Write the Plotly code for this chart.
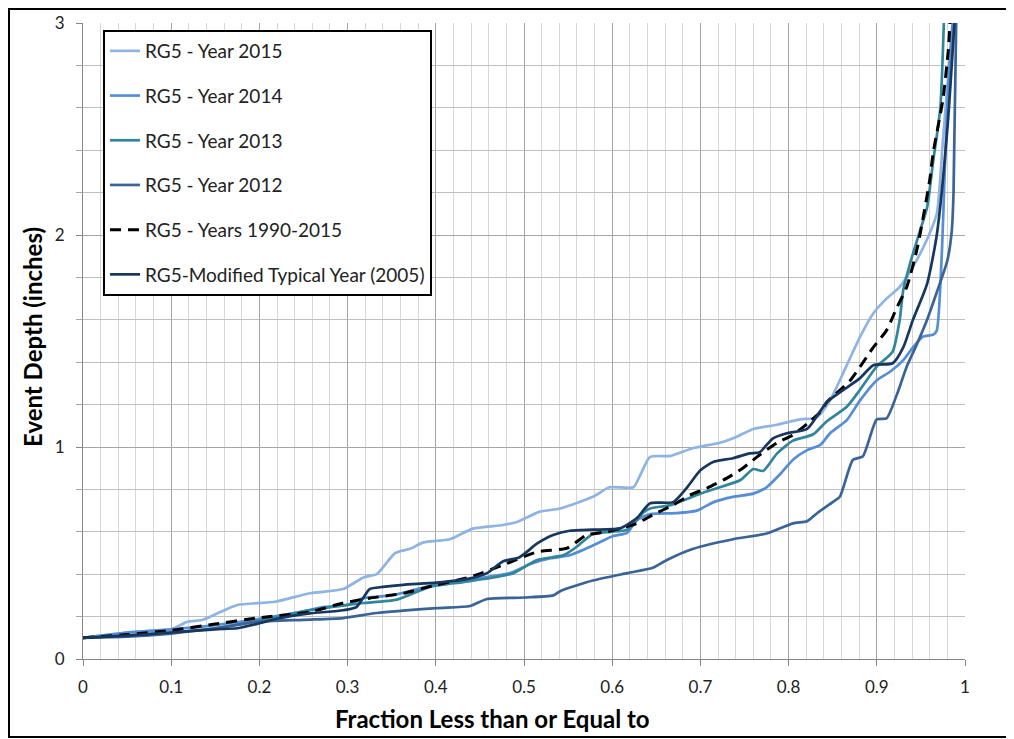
import plotly.graph_objects as go

# ---- data ----
x_2015 = [0, 0.05, 0.1, 0.118, 0.136, 0.155, 0.175, 0.218, 0.257, 0.295, 0.318, 0.333, 0.354, 0.371,
          0.386, 0.416, 0.442, 0.476, 0.492, 0.518, 0.541, 0.578, 0.597, 0.624, 0.631, 0.643, 0.666,
          0.692, 0.722, 0.742, 0.76, 0.787, 0.813, 0.832, 0.847, 0.862, 0.881, 0.896, 0.911, 0.926,
          0.941, 0.957, 0.968, 0.975, 0.982, 0.986]
y_2015 = [0.10, 0.125, 0.14, 0.175, 0.185, 0.22, 0.255, 0.27, 0.31, 0.33, 0.385, 0.40, 0.50, 0.52,
          0.55, 0.565, 0.615, 0.632, 0.646, 0.695, 0.71, 0.765, 0.81, 0.81, 0.86, 0.953, 0.958,
          0.995, 1.02, 1.05, 1.085, 1.105, 1.13, 1.14, 1.22, 1.35, 1.52, 1.63, 1.70, 1.755,
          1.85, 1.98, 2.10, 2.45, 2.8, 3.0]

x_2014 = [0, 0.05, 0.1, 0.15, 0.2, 0.25, 0.272, 0.3, 0.318, 0.35, 0.393, 0.45, 0.484, 0.507, 0.53,
          0.552, 0.578, 0.601, 0.617, 0.628, 0.643, 0.673, 0.696, 0.715, 0.737, 0.76, 0.775, 0.79,
          0.805, 0.821, 0.836, 0.847, 0.866, 0.881, 0.9, 0.915, 0.93, 0.941, 0.952, 0.964, 0.968,
          0.974, 0.977, 0.981, 0.986]
y_2014 = [0.10, 0.125, 0.14, 0.16, 0.19, 0.225, 0.245, 0.255, 0.287, 0.30, 0.344, 0.382, 0.405, 0.448,
          0.475, 0.49, 0.535, 0.58, 0.595, 0.655, 0.684, 0.688, 0.70, 0.74, 0.765, 0.78, 0.81, 0.87,
          0.94, 0.985, 1.01, 1.065, 1.127, 1.22, 1.315, 1.355, 1.41, 1.47, 1.52, 1.53, 1.55,
          1.94, 2.3, 2.7, 3.0]

x_2013 = [0, 0.05, 0.1, 0.15, 0.2, 0.25, 0.3, 0.318, 0.356, 0.393, 0.431, 0.469, 0.488, 0.515, 0.545,
          0.56, 0.578, 0.598, 0.617, 0.635, 0.643, 0.666, 0.7, 0.722, 0.745, 0.76, 0.771, 0.787,
          0.805, 0.828, 0.843, 0.866, 0.881, 0.9, 0.911, 0.918, 0.926, 0.93, 0.938, 0.949, 0.957,
          0.964, 0.972, 0.976]
y_2013 = [0.10, 0.11, 0.125, 0.145, 0.18, 0.225, 0.255, 0.264, 0.28, 0.34, 0.363, 0.387, 0.405, 0.467,
          0.49, 0.53, 0.59, 0.60, 0.61, 0.69, 0.71, 0.726, 0.78, 0.81, 0.843, 0.896, 0.887, 0.97,
          1.03, 1.06, 1.12, 1.19, 1.27, 1.38, 1.42, 1.45, 1.6, 1.74, 1.87, 2.02, 2.13,
          2.35, 2.6, 3.0]

x_2012 = [0, 0.05, 0.1, 0.15, 0.197, 0.25, 0.295, 0.333, 0.401, 0.439, 0.458, 0.5, 0.533, 0.541,
          0.578, 0.617, 0.646, 0.662, 0.692, 0.737, 0.775, 0.805, 0.821, 0.833, 0.85, 0.858, 0.873,
          0.884, 0.9, 0.911, 0.923, 0.934, 0.946, 0.957, 0.968, 0.98, 0.985, 0.987, 0.99]
y_2012 = [0.10, 0.105, 0.12, 0.145, 0.175, 0.185, 0.193, 0.217, 0.24, 0.25, 0.283, 0.29, 0.30, 0.32,
          0.37, 0.405, 0.43, 0.467, 0.52, 0.565, 0.592, 0.64, 0.65, 0.69, 0.74, 0.765, 0.94,
          0.955, 1.13, 1.135, 1.25, 1.38, 1.49, 1.6, 1.73, 1.88, 2.02, 2.2, 3.0]

x_all = [0, 0.05, 0.1, 0.15, 0.197, 0.257, 0.295, 0.325, 0.363, 0.401, 0.439, 0.476, 0.515, 0.549,
         0.571, 0.594, 0.628, 0.646, 0.669, 0.688, 0.707, 0.73, 0.748, 0.767, 0.787, 0.805, 0.822,
         0.836, 0.843, 0.87, 0.896, 0.911, 0.923, 0.934, 0.946, 0.952, 0.96, 0.964, 0.975, 0.981,
         0.983]
y_all = [0.10, 0.115, 0.135, 0.165, 0.193, 0.222, 0.264, 0.287, 0.31, 0.35, 0.387, 0.443, 0.505, 0.523,
         0.585, 0.60, 0.64, 0.68, 0.726, 0.773, 0.805, 0.853, 0.9, 0.962, 1.02, 1.057, 1.113,
         1.165, 1.21, 1.315, 1.47, 1.55, 1.66, 1.755, 1.94, 2.07, 2.26, 2.39, 2.64, 2.87,
         3.0]

x_2005 = [0, 0.05, 0.1, 0.15, 0.175, 0.197, 0.22, 0.257, 0.295, 0.31, 0.318, 0.325, 0.34, 0.363, 0.401,
          0.439, 0.458, 0.476, 0.495, 0.515, 0.533, 0.552, 0.578, 0.609, 0.628, 0.643, 0.669, 0.685,
          0.7, 0.715, 0.737, 0.756, 0.767, 0.782, 0.798, 0.821, 0.843, 0.866, 0.881, 0.896, 0.918,
          0.93, 0.941, 0.957, 0.968, 0.98, 0.988]
y_2005 = [0.10, 0.11, 0.125, 0.14, 0.145, 0.165, 0.19, 0.215, 0.23, 0.245, 0.29, 0.33, 0.34, 0.35, 0.36,
          0.38, 0.405, 0.46, 0.48, 0.545, 0.585, 0.605, 0.61, 0.616, 0.665, 0.735, 0.74, 0.81,
          0.89, 0.93, 0.947, 0.97, 0.975, 1.04, 1.065, 1.085, 1.21, 1.28, 1.325, 1.386, 1.395,
          1.47, 1.6, 1.77, 2.0, 2.5, 3.0]

x_ticks = [0, 0.1, 0.2, 0.3, 0.4, 0.5, 0.6, 0.7, 0.8, 0.9, 1]
x_tick_labels = ["0", "0.1", "0.2", "0.3", "0.4", "0.5", "0.6", "0.7", "0.8", "0.9", "1"]
y_ticks = [0, 1, 2, 3]
y_tick_labels = ["0", "1", "2", "3"]

series = [
    ("RG5 - Year 2015", x_2015, y_2015, "#8DB4E2", "solid"),
    ("RG5 - Year 2014", x_2014, y_2014, "#558ED5", "solid"),
    ("RG5 - Year 2013", x_2013, y_2013, "#31859C", "solid"),
    ("RG5 - Year 2012", x_2012, y_2012, "#3A6497", "solid"),
    ("RG5 - Years 1990-2015", x_all, y_all, "#000000", "dash"),
    ("RG5-Modified Typical Year (2005)", x_2005, y_2005, "#17375E", "solid"),
]

FONT = "Lato, 'Open Sans', sans-serif"

# page is offset 8px by the body margin, so the figure is 1006x731
W, H = 1006, 731
ML, MR, MT, MB = 75, 49, 15, 80
PW, PH = W - ML - MR, H - MT - MB

def px_x(p):  # page x -> paper x
    return (p - 8 - ML) / PW

def px_y(p):  # page y -> paper y
    return (H - MB - (p - 8)) / PH

fig = go.Figure()
for i, (name, xs, ys, col, dash) in enumerate(series):
    fig.add_trace(go.Scatter(
        x=xs, y=ys, name=name, mode="lines", legendgroup=f"g{i}",
        line=dict(color=col, width=(3 if dash == "dash" else 2.7),
                  dash=("11px,7px" if dash == "dash" else "solid"),
                  shape="spline", smoothing=0.6),
    ))

fig.update_layout(
    width=W, height=H,
    margin=dict(l=ML, r=MR, t=MT, b=MB),
    paper_bgcolor="white", plot_bgcolor="white",
    font=dict(family=FONT, color="#222222", size=16),
    showlegend=True,
    legend=dict(
        x=px_x(103), y=px_y(30), xanchor="left", yanchor="top",
        bordercolor="black", borderwidth=2, bgcolor="white",
        font=dict(family=FONT, size=19, color="#222222"),
        tracegroupgap=17,
    ),
    xaxis=dict(
        range=[0, 1], tickvals=x_ticks, ticktext=x_tick_labels,
        showgrid=True, gridcolor="#A6A6A6", gridwidth=1,
        ticks="outside", ticklen=6, tickcolor="#868686", ticklabelstandoff=7,
        showline=True, linecolor="#868686", linewidth=1, zeroline=False,
        tickfont=dict(family=FONT, size=17, color="#222222"),
        minor=dict(dtick=0.02, tick0=0, showgrid=True, gridcolor="#D6D6D6", gridwidth=1, ticks=""),
        automargin=False,
    ),
    yaxis=dict(
        range=[0, 3], tickvals=y_ticks, ticktext=y_tick_labels,
        showgrid=True, gridcolor="#A6A6A6", gridwidth=1,
        ticks="outside", ticklen=6, tickcolor="#868686", ticklabelstandoff=8,
        showline=True, linecolor="#868686", linewidth=1, zeroline=False,
        tickfont=dict(family=FONT, size=17, color="#222222"),
        minor=dict(dtick=0.2, tick0=0, showgrid=True, gridcolor="#BFBFBF", gridwidth=1,
                   ticks="outside", ticklen=6, tickcolor="#A6A6A6"),
        automargin=False,
    ),
    annotations=[
        dict(text="<b>Fraction Less than or Equal to</b>", xref="paper", yref="paper",
             x=px_x(492), y=px_y(718), xanchor="center", yanchor="middle", showarrow=False,
             font=dict(family=FONT, size=24, color="#000000")),
        dict(text="<b>Event Depth (inches)</b>", xref="paper", yref="paper",
             x=px_x(32), y=px_y(337), xanchor="center", yanchor="middle", showarrow=False,
             textangle=-90, font=dict(family=FONT, size=24, color="#000000")),
    ],
    shapes=[dict(type="rect", xref="paper", yref="paper",
                 x0=px_x(9), x1=px_x(1012), y0=px_y(737), y1=px_y(9),
                 line=dict(color="#000000", width=2), fillcolor="rgba(0,0,0,0)", layer="above")],
)

fig.write_html("out.html")
